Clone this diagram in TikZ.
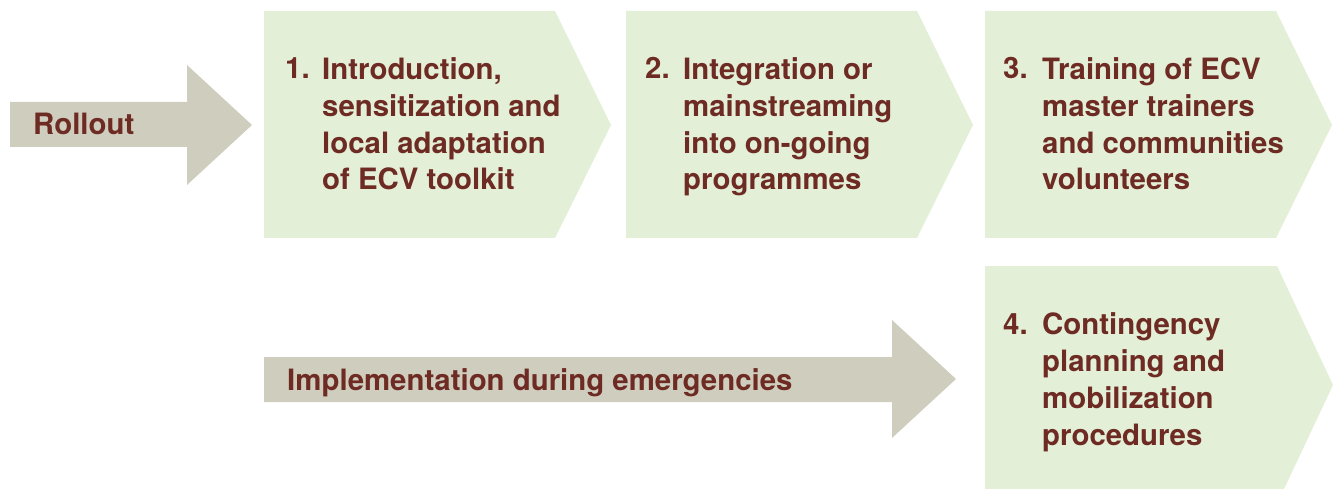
\documentclass[tikz,border=0pt]{standalone}
\usepackage{fontspec}
\setmainfont{TeX Gyre Heros}
\definecolor{stepgreen}{HTML}{E3EFD6}
\definecolor{arrowgrey}{HTML}{CFCEBE}
\definecolor{textbrown}{HTML}{6E2B24}
\tikzset{
  steptext/.style={font=\bfseries\fontsize{29.5}{37}\selectfont, text=textbrown,
    inner sep=0pt, anchor=base west, align=left},
}
\begin{document}
\begin{tikzpicture}[x=1bp,y=-1bp]
\useasboundingbox (0,0) rectangle (1338,489);
% grey arrows
\fill[arrowgrey] (10,102) -- (187,102) -- (187,65) -- (252,125) -- (187,185) -- (187,147) -- (10,147) -- cycle;
\fill[arrowgrey] (264,357) -- (892,357) -- (892,320) -- (956,379) -- (892,438) -- (892,402) -- (264,402) -- cycle;
% chevrons
\foreach \x in {264,626,985}
  \fill[stepgreen,shift={(\x,0)}] (0,11) -- (291,11) -- (347,125) -- (291,238) -- (0,238) -- cycle;
\fill[stepgreen] (985,266) -- (1277,266) -- (1333,385) -- (1277,504) -- (985,504) -- cycle;
% labels (multi-line nodes sit on the baseline of their last line)
\node[steptext] (rollout) at (33,135) {Rollout};
\node[steptext] (impl) at (287,390) {Implementation during emergencies};
\node[steptext] (n1) at (285,79) {1.};
\node[steptext] (s1) at (322,190) {Introduction,\\sensitization and\\local adaptation\\of ECV toolkit};
\node[steptext] (n2) at (645,79) {2.};
\node[steptext] (s2) at (683,190) {Integration or\\mainstreaming\\into on-going\\programmes};
\node[steptext] (n3) at (1003,79) {3.};
\node[steptext] (s3) at (1042,190) {Training of ECV\\master trainers\\and communities\\volunteers};
\node[steptext] (n4) at (1003,334) {4.};
\node[steptext] (s4) at (1042,445) {Contingency\\planning and\\mobilization\\procedures};
\end{tikzpicture}
\end{document}
